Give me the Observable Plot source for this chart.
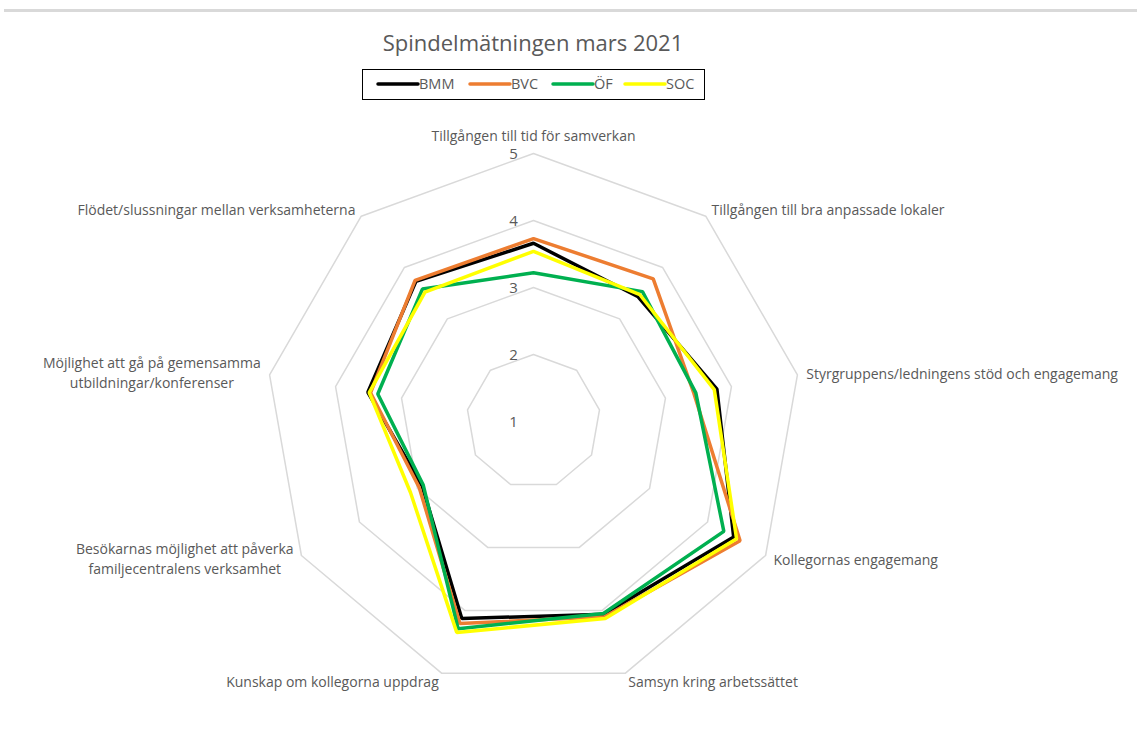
<!DOCTYPE html>
<html><head><meta charset="utf-8">
<script src="https://cdn.jsdelivr.net/npm/d3@7"></script>
<script src="https://cdn.jsdelivr.net/npm/@observablehq/plot@0.6"></script>
<style>
body{margin:0;background:#fff;font-family:"Open Sans",sans-serif;}
#wrap{position:relative;width:1137px;height:735px;overflow:hidden;}
#head{position:relative;width:1137px;height:110px;}
#topline{position:absolute;left:4px;right:0;top:9px;height:3px;background:#d9d9d9;}
#title{position:absolute;left:0;width:1066px;top:27px;text-align:center;font-size:22px;line-height:30px;color:#595959;}
#legend{position:absolute;left:362px;top:69px;width:343px;height:31px;border:1.5px solid #000;box-sizing:border-box;}
#legend svg{display:block;}
#chart svg{display:block;}
</style>
</head><body>
<div id="wrap">
  <div id="head"><div id="topline"></div><div id="title"></div><div id="legend"></div></div>
  <div id="chart"></div>
</div>
<script>
const title = "Spindelmätningen mars 2021";
const categories = [
  "Tillgången till tid för samverkan",
  "Tillgången till bra anpassade lokaler",
  "Styrgruppens/ledningens stöd och engagemang",
  "Kollegornas engagemang",
  "Samsyn kring arbetssättet",
  "Kunskap om kollegorna uppdrag",
  "Besökarnas möjlighet att påverka\nfamiljecentralens verksamhet",
  "Möjlighet att gå på gemensamma\nutbildningar/konferenser",
  "Flödet/slussningar mellan verksamheterna"
];
const seriesNames = ["BMM", "BVC", "ÖF", "SOC"];
const seriesColors = ["#000000", "#ED7D31", "#00B050", "#FFFF00"];
const BMM = [3.66, 3.43, 3.78, 4.45, 4.06, 4.13, 2.92, 3.51, 3.73];
const BVC = [3.73, 3.78, 3.43, 4.56, 4.10, 4.21, 2.97, 3.47, 3.75];
const OF  = [3.22, 3.53, 3.46, 4.28, 4.05, 4.29, 2.90, 3.36, 3.58];
const SOC = [3.54, 3.47, 3.74, 4.50, 4.13, 4.35, 3.12, 3.49, 3.52];
const tickValues = [1, 2, 3, 4, 5];

const seriesValues = [BMM, BVC, OF, SOC];
const W = 1137, H = 625;
const cx = 533, cy = 311, unit = 67;
const minV = tickValues[0], maxV = tickValues[tickValues.length - 1];
const n = categories.length;
const ang = i => 2 * Math.PI * i / n;
const pt = (i, v) => ({x: (v - minV) * Math.sin(ang(i)), y: (v - minV) * Math.cos(ang(i))});

document.getElementById("title").textContent = title;

// rings
const ringRows = [];
tickValues.filter(t => t > minV).forEach(t => {
  categories.forEach((c, i) => ringRows.push({level: t, ...pt(i, t)}));
});

// series
const seriesMarks = seriesNames.map((name, s) => {
  const rows = seriesValues[s].map((v, i) => ({series: name, ...pt(i, v)}));
  return Plot.line(rows, {x: "x", y: "y", stroke: seriesColors[s], strokeWidth: 3.5,
    curve: "linear-closed", strokeLinejoin: "miter"});
});

// category labels
const fs = 14;
const canvas = document.createElement("canvas");
const ctx = canvas.getContext("2d");
ctx.font = fs + "px 'Open Sans'";
const pad = 9 / unit;
const labelRows = categories.map((c, i) => {
  const s = Math.sin(ang(i));
  const r = maxV - minV + pad;
  let x = r * s, y = r * Math.cos(ang(i));
  const lines = c.split("\n");
  let anchor = s > 0.1 ? "start" : s < -0.1 ? "end" : "middle";
  if (lines.length > 1 && anchor !== "middle") {
    const w = Math.max(...lines.map(l => ctx.measureText(l).width)) / unit;
    x = anchor === "end" ? x - w / 2 : x + w / 2;
    anchor = "middle";
  }
  const top = Math.cos(ang(i)) > 0.99;
  return {text: c, x, y, anchor, top};
});

const textStyle = {fill: "#595959", fontSize: fs, fontFamily: "Open Sans", lineHeight: 1.43};
const labelMarks = [
  Plot.text(labelRows.filter(d => d.anchor === "start"), {x: "x", y: "y", text: "text", textAnchor: "start", dy: -1, ...textStyle}),
  Plot.text(labelRows.filter(d => d.anchor === "end"), {x: "x", y: "y", text: "text", textAnchor: "end", dy: -1, ...textStyle}),
  Plot.text(labelRows.filter(d => d.anchor === "middle" && !d.top), {x: "x", y: "y", text: "text", textAnchor: "middle", dy: -2, ...textStyle}),
  Plot.text(labelRows.filter(d => d.top), {x: "x", y: "y", text: "text", textAnchor: "middle", lineAnchor: "bottom", dy: -4, ...textStyle})
];

const tickRows = tickValues.map(t => ({t: String(t), x: 0, y: t - minV}));

const chart = Plot.plot({
  width: W, height: H,
  margin: 0,
  x: {domain: [-cx / unit, (W - cx) / unit], axis: null},
  y: {domain: [-(H - cy) / unit, cy / unit], axis: null},
  style: {background: "#fff", overflow: "visible"},
  marks: [
    Plot.line(ringRows, {x: "x", y: "y", z: "level", stroke: "#d9d9d9", strokeWidth: 1.5, curve: "linear-closed"}),
    ...seriesMarks,
    Plot.text(tickRows, {x: "x", y: "y", text: "t", dx: -20, dy: 1, fill: "#595959", fontSize: 15, fontFamily: "Open Sans"}),
    ...labelMarks
  ]
});
document.getElementById("chart").appendChild(chart);

// legend
const lg = d3.select("#legend").append("svg").attr("width", 340).attr("height", 28);
const itemX = [15, 107, 190, 262];
seriesNames.forEach((name, s) => {
  const g = lg.append("g").attr("transform", `translate(${itemX[s]},14)`);
  g.append("line").attr("x1", 0).attr("x2", 40).attr("y1", 0).attr("y2", 0)
    .attr("stroke", seriesColors[s]).attr("stroke-width", 3.5).attr("stroke-linecap", "round");
  g.append("text").attr("x", 41).attr("y", 0).attr("dy", "0.35em").attr("fill", "#595959")
    .attr("font-size", 14.5).attr("font-family", "Open Sans").text(name);
});
</script>
</body></html>
